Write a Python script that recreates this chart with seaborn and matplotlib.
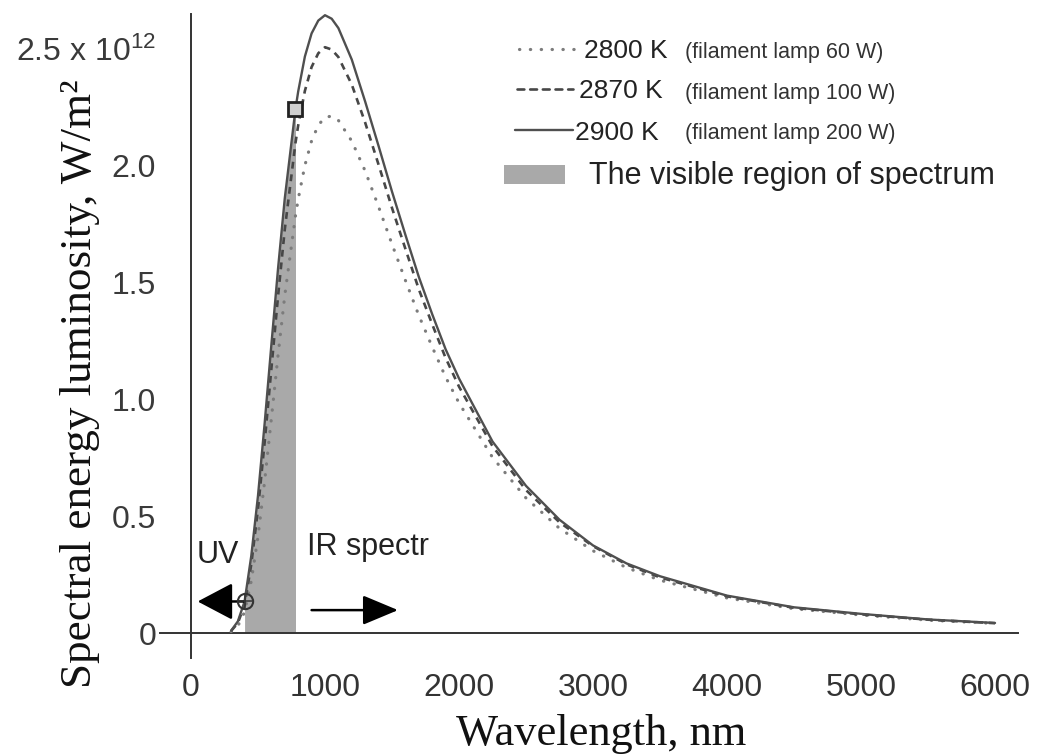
import numpy as np
import pandas as pd
import matplotlib
matplotlib.use("Agg")
import matplotlib.pyplot as plt
import seaborn as sns
from matplotlib.lines import Line2D
from matplotlib.patches import Rectangle

# ---------------- data ----------------
wavelength_nm = [300, 350, 400, 450, 500, 550, 600, 650, 700, 780, 800, 850, 900, 950,
                 1000, 1050, 1100, 1200, 1300, 1400, 1500, 1600, 1700, 1800, 1900,
                 2000, 2250, 2500, 2750, 3000, 3250, 3500, 4000, 4500, 5000, 5500, 6000]
lum_2800 = [0.006, 0.030, 0.090, 0.223, 0.412, 0.651, 0.918, 1.190, 1.445, 1.787, 1.857,
            2.002, 2.107, 2.174, 2.208, 2.213, 2.195, 2.106, 1.978, 1.825, 1.665, 1.510,
            1.360, 1.225, 1.096, 0.985, 0.752, 0.578, 0.448, 0.352, 0.280, 0.226,
            0.150, 0.104, 0.077, 0.055, 0.041]
lum_2870 = [0.009, 0.043, 0.120, 0.294, 0.530, 0.818, 1.132, 1.443, 1.728, 2.099, 2.173,
            2.321, 2.423, 2.482, 2.508, 2.498, 2.466, 2.348, 2.185, 2.005, 1.820, 1.645,
            1.472, 1.322, 1.178, 1.055, 0.800, 0.612, 0.474, 0.372, 0.294, 0.238,
            0.157, 0.108, 0.080, 0.057, 0.042]
lum_2900 = [0.010, 0.050, 0.135, 0.330, 0.587, 0.899, 1.234, 1.562, 1.861, 2.244, 2.318,
            2.468, 2.567, 2.622, 2.645, 2.630, 2.590, 2.455, 2.275, 2.085, 1.890, 1.705,
            1.525, 1.365, 1.215, 1.090, 0.820, 0.630, 0.485, 0.375, 0.298, 0.243,
            0.160, 0.110, 0.082, 0.058, 0.043]
visible_range_nm = [400, 780]

series_labels = ["2800 K", "2870 K", "2900 K"]
series_notes = ["(filament lamp 60 W)", "(filament lamp 100 W)", "(filament lamp 200 W)"]
visible_label = "The visible region of spectrum"
x_ticks = [0, 1000, 2000, 3000, 4000, 5000, 6000]
y_ticks = [0, 0.5, 1.0, 1.5, 2.0, 2.5]
y_ticklabels = ["0", "0.5", "1.0", "1.5", "2.0", "2.5 x 10$^{12}$"]

# ---------------- style ----------------
sns.set_style("white")
plt.rcParams["font.family"] = ["Liberation Sans", "DejaVu Sans"]
plt.rcParams["mathtext.default"] = "regular"

fig = plt.figure(figsize=(10.44, 7.55), dpi=100)
ax = fig.add_axes([0.1534, 0.1291, 0.8215, 0.8523])

df = pd.DataFrame({"wl": wavelength_nm, "T2800": lum_2800,
                   "T2870": lum_2870, "T2900": lum_2900})

# visible region fill
vis = df[(df.wl >= visible_range_nm[0]) & (df.wl <= visible_range_nm[1])]
fill_color = "#a9a9a9"
ax.fill_between(vis.wl, 0, vis.T2900, color=fill_color, lw=0, zorder=1)

c_dot, c_dash, c_solid = "#7c7c7c", "#474747", "#4f4f4f"
sns.lineplot(data=df, x="wl", y="T2800", ax=ax, color=c_dot, lw=2.3, zorder=3)
ax.lines[-1].set_linestyle((0, (0.1, 3.3)))
ax.lines[-1].set_dash_capstyle("round")
sns.lineplot(data=df, x="wl", y="T2870", ax=ax, color=c_dash, lw=1.9, zorder=3)
ax.lines[-1].set_linestyle((0, (2.6, 2.2)))
sns.lineplot(data=df, x="wl", y="T2900", ax=ax, color=c_solid, lw=1.7, zorder=4)
for ln in ax.lines:
    ln.set_clip_on(False)
    ln.set_solid_joinstyle("round")

# arrows
ax.annotate("", xy=(50, lum_2900[2]), xytext=(395, lum_2900[2]),
            arrowprops=dict(arrowstyle="-|>,head_length=1.1,head_width=0.58",
                            mutation_scale=20, lw=1.8, color="black",
                            shrinkA=0, shrinkB=0), zorder=5)
ax.annotate("", xy=(1545, 0.098), xytext=(900, 0.098),
            arrowprops=dict(arrowstyle="-|>,head_length=1.1,head_width=0.46",
                            mutation_scale=20, lw=1.8, color="black",
                            shrinkA=0, shrinkB=0), zorder=5)

# markers at visible-region borders
i400 = wavelength_nm.index(visible_range_nm[0])
i780 = wavelength_nm.index(visible_range_nm[1])
ax.plot([visible_range_nm[0]], [lum_2900[i400]], marker="o", ms=11, mfc="none",
        mec="#333333", mew=1.5, zorder=6, clip_on=False)
ax.plot([visible_range_nm[0]], [lum_2900[i400]], marker="+", ms=10, mec="#333333",
        mew=1.1, zorder=6, clip_on=False)
ax.plot([visible_range_nm[1]], [lum_2900[i780]], marker="s", ms=9.5, mfc="#d0d0d0",
        mec="#222222", mew=2.0, zorder=6, clip_on=False)

# texts UV / IR
ax.text(45, 0.30, "UV", fontsize=22, color="#222222", va="baseline", ha="left")
ax.text(867, 0.334, "IR spectr", fontsize=22, color="#222222", va="baseline", ha="left")

# axes
ax.set_xlim(-230, 6170)
ax.set_ylim(-0.105, 2.65)
ax.set_xticks(x_ticks)
ax.set_xticklabels([str(t) for t in x_ticks])
ax.set_yticks(y_ticks)
ax.set_yticklabels(y_ticklabels)
ax.set_xlabel("")
ax.set_ylabel("")
for s in ["top", "right"]:
    ax.spines[s].set_visible(False)
ax.spines["left"].set_position(("data", 0))
ax.spines["bottom"].set_position(("data", 0))
for s in ["left", "bottom"]:
    ax.spines[s].set_linewidth(1.4)
    ax.spines[s].set_color("#333333")
ax.tick_params(axis="x", direction="out", length=13, width=1.4, pad=16,
               labelsize=23, labelcolor="#333333", color="#333333")
ax.tick_params(axis="y", direction="out", length=11, width=1.4, pad=14,
               labelsize=23, labelcolor="#3a3a3a", color="#333333")

# axis titles
fig.text(601 / 1044, 1 - 745 / 755, "Wavelength, nm", fontsize=32,
         family="Liberation Serif", color="#111111", ha="center", va="baseline")
fig.text(80 / 1044, 1 - 384 / 755, "Spectral energy luminosity, W/m\u00b2", fontsize=32.5,
         family="Liberation Serif", color="#111111", ha="center", va="center",
         rotation=90)

# legend (drawn by hand)
def fx(px):
    return px / 1044

def fy(py):
    return 1 - py / 755

rows = [(48.6, 519, 577, 584, c_dot, (0, (0.1, 3.3)), 2.3),
        (89.0, 517, 573, 579, c_dash, (0, (2.6, 2.2)), 1.9),
        (130.0, 515, 573, 575, c_solid, "-", 1.7)]
for (yc, x0, x1, xt, col, ls, lw), lab, note in zip(rows, series_labels, series_notes):
    ln = Line2D([fx(x0), fx(x1)], [fy(yc), fy(yc)], transform=fig.transFigure,
                color=col, lw=lw, linestyle=ls, dash_capstyle="round")
    fig.add_artist(ln)
    fig.text(fx(xt), fy(yc + 9.5), lab, fontsize=19, color="#222222",
             ha="left", va="baseline")
    fig.text(fx(685), fy(yc + 9.5), note, fontsize=15.5, color="#333333",
             ha="left", va="baseline")

fig.add_artist(Rectangle((fx(503.5), fy(184)), fx(565) - fx(503.5), fy(165) - fy(184),
                         transform=fig.transFigure, color=fill_color, lw=0))
fig.text(fx(589), fy(184), visible_label, fontsize=22, color="#222222",
         ha="left", va="baseline")

fig.savefig("out.png", dpi=100)
